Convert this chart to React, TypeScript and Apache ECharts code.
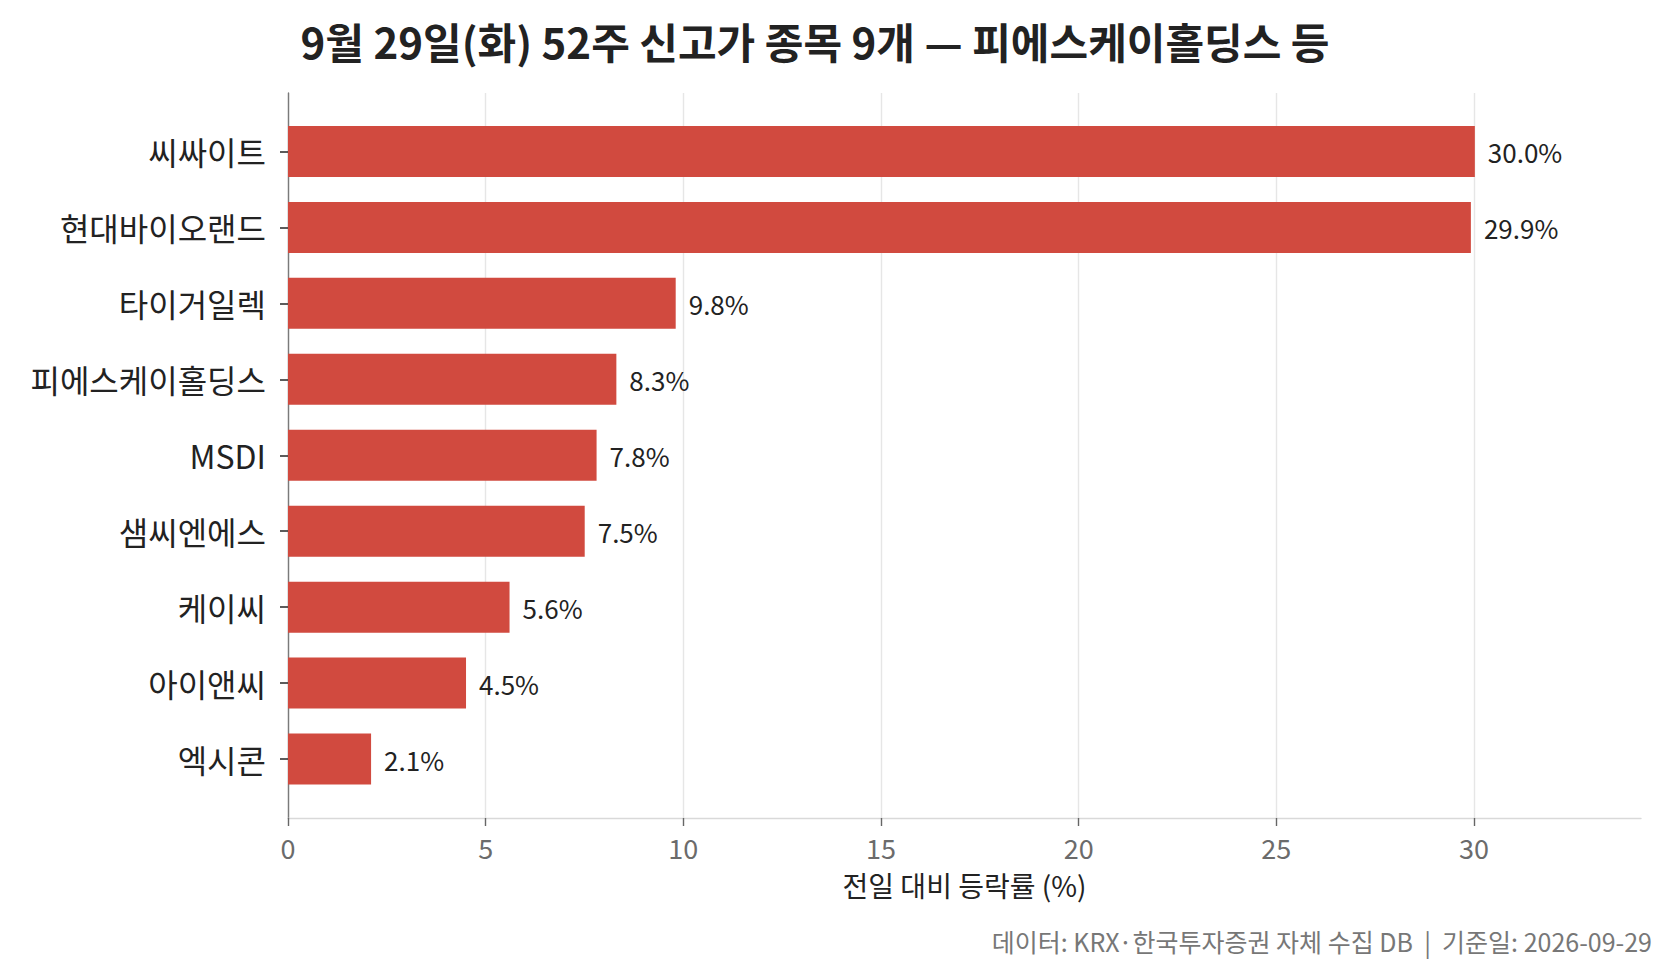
import * as echarts from 'echarts';
import { useEffect, useRef } from 'react';

const FONT = '"Noto Sans CJK KR", "Noto Sans", sans-serif';

const stocks = ['씨싸이트', '현대바이오랜드', '타이거일렉', '피에스케이홀딩스', 'MSDI', '샘씨엔에스', '케이씨', '아이앤씨', '엑시콘'];
const changes = [30.0, 29.9, 9.8, 8.3, 7.8, 7.5, 5.6, 4.5, 2.1];
const xTicks = [0, 5, 10, 15, 20, 25, 30];

const TITLE = '9월 29일(화) 52주 신고가 종목 9개 — 피에스케이홀딩스 등';
const X_NAME = '전일 대비 등락률 (%)';
const FOOTNOTE = '데이터: KRX·한국투자증권 자체 수집 DB  |  기준일: 2026-09-29';

const BAR_COLOR = '#d14a3f';
const X_MAX = 34.2;

export default function App() {
  const chartRef = useRef<HTMLDivElement>(null);

  useEffect(() => {
    document.body.style.margin = '0';
    if (!chartRef.current) return;
    const chart = echarts.init(chartRef.current, undefined, { renderer: 'svg' });

    chart.setOption({
      animation: false,
      backgroundColor: '#ffffff',
      textStyle: { fontFamily: FONT },
      grid: [
        // frame: axis lines + axis name
        { left: 288, right: 32, top: 93, bottom: 157 },
        // tick grid: 0..30 gridlines and labels
        { left: 288, right: 199, top: 93, bottom: 157 },
        // bars, padded inside the frame
        { left: 288, right: 32, top: 113.5, bottom: 178 },
      ],
      xAxis: [
        {
          gridIndex: 0,
          type: 'value',
          min: 0,
          max: X_MAX,
          axisLine: { show: true, lineStyle: { color: '#d9d9d9', width: 1.4 } },
          axisTick: { show: false },
          axisLabel: { show: false },
          splitLine: { show: false },
          name: X_NAME,
          nameLocation: 'middle',
          nameGap: 53,
          nameTextStyle: { color: '#222222', fontSize: 28, fontFamily: FONT, verticalAlign: 'top' },
        },
        {
          gridIndex: 1,
          type: 'value',
          min: xTicks[0],
          max: xTicks[xTicks.length - 1],
          interval: 5,
          axisLine: { show: false },
          axisTick: { show: true, length: 8, lineStyle: { color: '#666666', width: 1.4 } },
          axisLabel: { color: '#6b6b6b', fontSize: 27, margin: 16, fontFamily: FONT },
          splitLine: { show: true, lineStyle: { color: '#e6e6e6', width: 1.4 } },
        },
        {
          gridIndex: 2,
          type: 'value',
          min: 0,
          max: X_MAX,
          show: false,
        },
      ],
      yAxis: [
        {
          gridIndex: 0,
          type: 'value',
          axisLine: { show: true, lineStyle: { color: '#7a7a7a', width: 1.4 } },
          axisTick: { show: false },
          axisLabel: { show: false },
          splitLine: { show: false },
        },
        {
          gridIndex: 1,
          type: 'value',
          show: false,
        },
        {
          gridIndex: 2,
          type: 'category',
          inverse: true,
          data: stocks,
          axisLine: { show: false },
          axisTick: { show: true, alignWithLabel: true, length: 8, lineStyle: { color: '#333333', width: 1.6 } },
          axisLabel: { color: '#222222', fontSize: 32, margin: 22, fontFamily: FONT },
          splitLine: { show: false },
        },
      ],
      series: [
        {
          type: 'bar',
          xAxisIndex: 2,
          yAxisIndex: 2,
          data: changes,
          barWidth: 51,
          itemStyle: { color: BAR_COLOR },
          label: {
            show: true,
            position: 'right',
            distance: 13,
            color: '#222222',
            fontSize: 26,
            fontFamily: FONT,
            formatter: (p: any) => `${(p.value as number).toFixed(1)}%`,
          },
        },
      ],
      graphic: [
        {
          type: 'text',
          x: 815,
          y: 40,
          style: {
            text: TITLE,
            fill: '#222222',
            font: `bold 42px ${FONT}`,
            textAlign: 'center',
            textVerticalAlign: 'middle',
          },
        },
        {
          type: 'text',
          x: 1652,
          y: 941,
          style: {
            text: FOOTNOTE,
            fill: '#777777',
            font: `25px ${FONT}`,
            textAlign: 'right',
            textVerticalAlign: 'middle',
          },
        },
      ],
    });

    return () => {
      chart.dispose();
    };
  }, []);

  return <div ref={chartRef} style={{ width: 1673, height: 975 }} />;
}
